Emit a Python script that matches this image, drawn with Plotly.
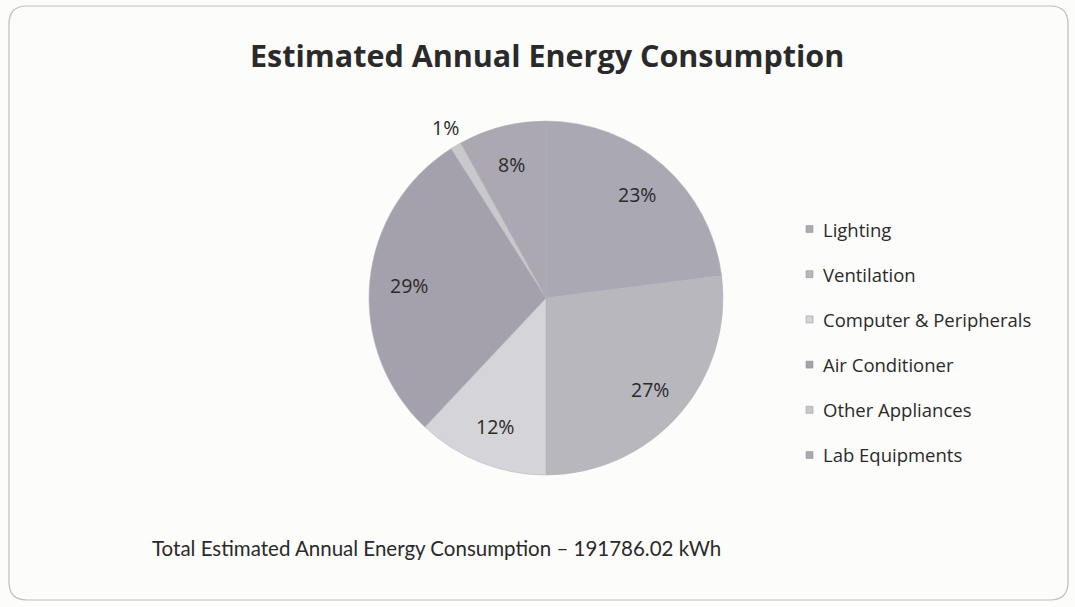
import math
import plotly.graph_objects as go

# Energy end-use breakdown (percent of annual consumption)
categories = ["Lighting", "Ventilation", "Computer & Peripherals",
              "Air Conditioner", "Other Appliances", "Lab Equipments"]
shares = [23, 27, 12, 29, 1, 8]
slice_colors = ["#aaa8b2", "#b9b7be", "#d5d4d8", "#a4a1ac", "#c9c8cd", "#aba8b1"]

title_text = "Estimated Annual Energy Consumption"
total_text = "Total Estimated Annual Energy Consumption \u2013 191786.02 kWh"

W, H = 1075, 607
FONT = "Lato, 'Open Sans', sans-serif"
WIDE = "'Open Sans', Lato, sans-serif"
INK = "#2a2a2a"

# pie geometry in pixels
cx, cy, r = 546, 298, 177

fig = go.Figure()
fig.add_trace(go.Pie(
    labels=categories,
    values=shares,
    sort=False,
    direction="clockwise",
    rotation=0,
    marker=dict(colors=slice_colors, line=dict(color="#b3b1b6", width=0.5)),
    textinfo="none",
    showlegend=False,
    hoverinfo="label+percent",
    domain=dict(x=[(cx - r) / W, (cx + r) / W],
                y=[(H - cy - r) / H, (H - cy + r) / H]),
))

shapes = []
annotations = []


def to_paper(px, py):
    return px / W, 1 - py / H


# percentage labels placed at each slice's mid-angle
total = sum(shares)
acc = 0
for v in shares:
    mid = (acc + v / 2) / total * 2 * math.pi
    acc += v
    frac = 0.78 if v / total >= 0.03 else 1.12
    lx = cx + frac * r * math.sin(mid)
    ly = cy - frac * r * math.cos(mid)
    px, py = to_paper(lx, ly)
    annotations.append(dict(xref="paper", yref="paper", x=px, y=py,
                            text=f"{round(100 * v / total)}%", showarrow=False,
                            xanchor="center", yanchor="middle",
                            font=dict(family=WIDE, size=19.5, color=INK)))

# rounded chart frame
x0, y0, x1, y1, rad = 9, 6, 1068, 600, 18
frame_path = (
    f"M {x0 + rad},{y0} L {x1 - rad},{y0} Q {x1},{y0} {x1},{y0 + rad} "
    f"L {x1},{y1 - rad} Q {x1},{y1} {x1 - rad},{y1} "
    f"L {x0 + rad},{y1} Q {x0},{y1} {x0},{y1 - rad} "
    f"L {x0},{y0 + rad} Q {x0},{y0} {x0 + rad},{y0} Z"
)


def px_path(path):
    out = []
    for tok in path.split():
        if "," in tok:
            a, b = tok.split(",")
            out.append(f"{float(a) / W:.5f},{1 - float(b) / H:.5f}")
        else:
            out.append(tok)
    return " ".join(out)


shapes.append(dict(type="path", xref="paper", yref="paper", path=px_path(frame_path),
                   line=dict(color="#bdbdbd", width=1.2), fillcolor="rgba(0,0,0,0)"))

# legend drawn from the category list
leg_x, leg_y0, leg_step, sq = 806, 229, 45.2, 7
for i, (name, col) in enumerate(zip(categories, slice_colors)):
    yc = leg_y0 + i * leg_step
    shapes.append(dict(type="rect", xref="paper", yref="paper",
                       x0=leg_x / W, x1=(leg_x + sq) / W,
                       y0=1 - (yc + sq / 2) / H, y1=1 - (yc - sq / 2) / H,
                       fillcolor=col, line=dict(color="#8f8d93", width=0.5)))
    annotations.append(dict(xref="paper", yref="paper", x=(leg_x + 15) / W, y=1 - yc / H,
                            text=name, showarrow=False, xanchor="left", yanchor="middle",
                            font=dict(family=WIDE, size=18.5, color=INK)))

annotations.append(dict(xref="paper", yref="paper", x=547 / W, y=1 - 55 / H,
                        text=f"<b>{title_text}</b>", showarrow=False,
                        xanchor="center", yanchor="middle",
                        font=dict(family=WIDE, size=30.5, color=INK)))
annotations.append(dict(xref="paper", yref="paper", x=150 / W, y=1 - 548 / H,
                        text=total_text, showarrow=False,
                        xanchor="left", yanchor="middle",
                        font=dict(family=FONT, size=20.5, color=INK)))

fig.update_layout(
    width=W, height=H,
    margin=dict(l=0, r=0, t=0, b=0),
    paper_bgcolor="#fcfcfb",
    plot_bgcolor="#fcfcfb",
    shapes=shapes,
    annotations=annotations,
)

fig.write_html("out.html")
